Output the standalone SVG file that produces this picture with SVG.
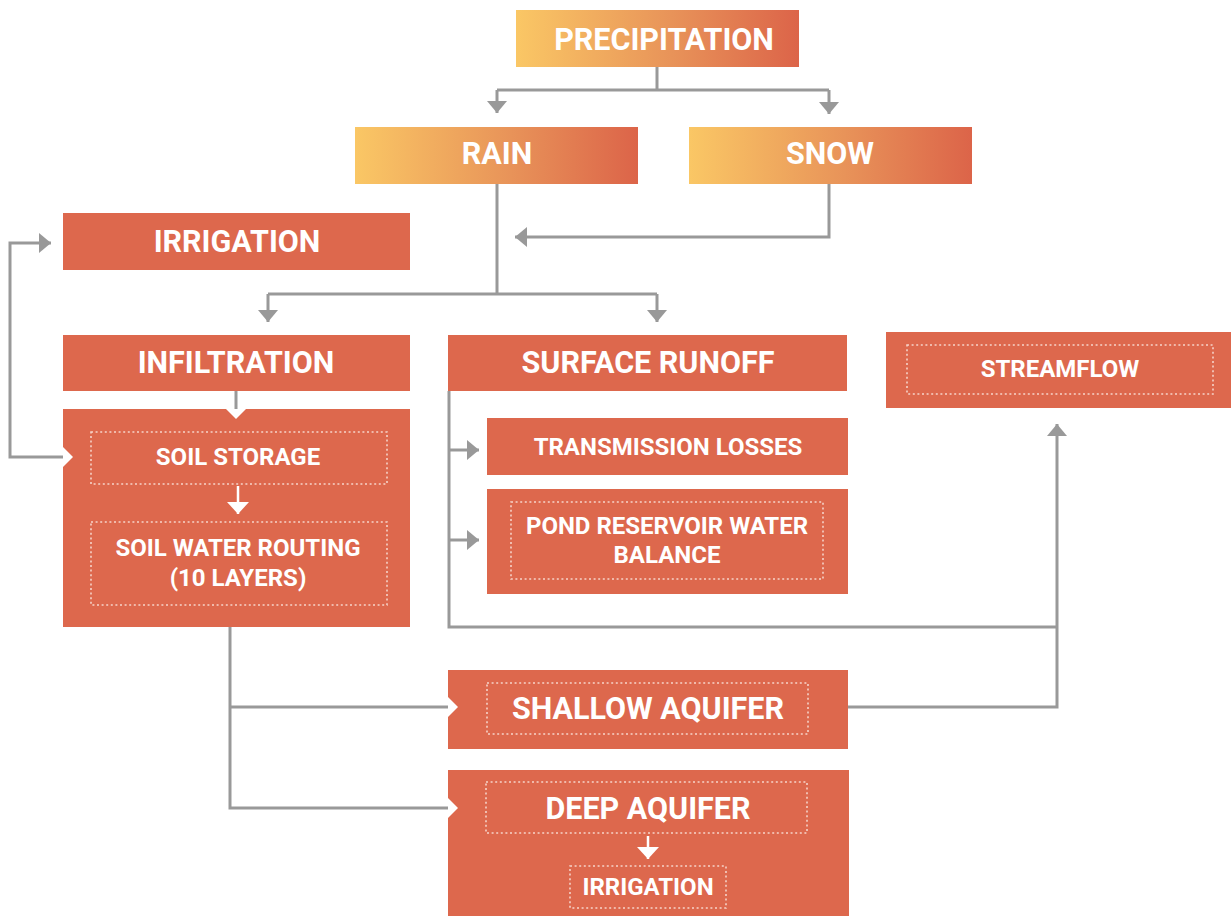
<svg xmlns="http://www.w3.org/2000/svg" width="1231" height="916" viewBox="0 0 1231 916">
  <style>
    .box { fill: #dd684d; }
    .grad { fill: url(#warm); }
    .dot { fill: none; stroke: #f6d3c9; stroke-width: 1.6; stroke-dasharray: 2 2.6; }
    .t-big { font-family: Roboto, "Liberation Sans", sans-serif; font-weight: 700; font-size: 30.5px; fill: #ffffff; text-anchor: middle; dominant-baseline: central; }
    .t-sm { font-family: Roboto, "Liberation Sans", sans-serif; font-weight: 700; font-size: 24px; fill: #ffffff; text-anchor: middle; dominant-baseline: central; }
    .wire { fill: none; stroke: #999999; stroke-width: 3; }
    .notch { fill: #ffffff; }
    .warrow { fill: none; stroke: #ffffff; stroke-width: 2.5; }
  </style>
  <defs>
    <linearGradient id="warm" x1="0" y1="0" x2="1" y2="0">
      <stop offset="0" stop-color="#fac765"/>
      <stop offset="0.55" stop-color="#e89359"/>
      <stop offset="1" stop-color="#dc6449"/>
    </linearGradient>
    <marker id="head" viewBox="0 0 12 20" refX="12" refY="10" markerWidth="12" markerHeight="20" markerUnits="userSpaceOnUse" orient="auto">
      <path d="M0,0 L12,10 L0,20 Z" fill="#999999"/>
    </marker>
    <marker id="whead" viewBox="0 0 12 22" refX="12" refY="11" markerWidth="12" markerHeight="22" markerUnits="userSpaceOnUse" orient="auto">
      <path d="M0,0 L12,11 L0,22 Z" fill="#ffffff"/>
    </marker>
  </defs>

  <!-- connectors -->
  <g id="connectors">
    <path class="wire" d="M657,67 V90 M497,90 H829" />
    <path class="wire" d="M497,90 V113" marker-end="url(#head)"/>
    <path class="wire" d="M829,90 V114" marker-end="url(#head)"/>
    <path class="wire" d="M497,184 V294 M268,294 H657"/>
    <path class="wire" d="M268,294 V322" marker-end="url(#head)"/>
    <path class="wire" d="M657,294 V322" marker-end="url(#head)"/>
    <path class="wire" d="M829,184 V237 H515" marker-end="url(#head)"/>
    <path class="wire" d="M64,457 H10 V243 H51" marker-end="url(#head)"/>
    <path class="wire" d="M236,391 V410"/>
    <path class="wire" d="M449,391 V627 H1057"/>
    <path class="wire" d="M449,450 H479" marker-end="url(#head)"/>
    <path class="wire" d="M449,540 H479" marker-end="url(#head)"/>
    <path class="wire" d="M848,707 H1057 V424" marker-end="url(#head)"/>
    <path class="wire" d="M230,627 V808 H449 M230,707 H449"/>
  </g>

  <g id="precipitation">
    <rect class="grad" x="516" y="10" width="283" height="57"/>
    <text class="t-big" x="664" y="39">PRECIPITATION</text>
  </g>

  <g id="rain">
    <rect class="grad" x="355" y="127" width="283" height="57"/>
    <text class="t-big" x="497" y="153">RAIN</text>
  </g>

  <g id="snow">
    <rect class="grad" x="689" y="127" width="283" height="57"/>
    <text class="t-big" x="830" y="153">SNOW</text>
  </g>

  <g id="irrigation">
    <rect class="box" x="63" y="213" width="347" height="57"/>
    <text class="t-big" x="237" y="241">IRRIGATION</text>
  </g>

  <g id="infiltration">
    <rect class="box" x="63" y="335" width="347" height="56"/>
    <text class="t-big" x="236" y="362">INFILTRATION</text>
  </g>

  <g id="soil">
    <rect class="box" x="63" y="409" width="347" height="218"/>
    <path class="notch" d="M226,409 L246,409 L236,419 Z"/>
    <path class="notch" d="M63,447 L73,457 L63,467 Z"/>
    <rect class="dot" x="91" y="432" width="296" height="52"/>
    <text class="t-sm" x="238" y="457">SOIL STORAGE</text>
    <path class="warrow" d="M238,486 V514" marker-end="url(#whead)"/>
    <rect class="dot" x="91" y="522" width="296" height="83"/>
    <text class="t-sm" x="238" y="548">SOIL WATER ROUTING</text>
    <text class="t-sm" x="238" y="578">(10 LAYERS)</text>
  </g>

  <g id="surface-runoff">
    <rect class="box" x="448" y="335" width="399" height="56"/>
    <text class="t-big" x="648" y="362">SURFACE RUNOFF</text>
  </g>

  <g id="transmission-losses">
    <rect class="box" x="487" y="418" width="361" height="57"/>
    <text class="t-sm" x="668" y="447">TRANSMISSION LOSSES</text>
  </g>

  <g id="pond-reservoir">
    <rect class="box" x="487" y="489" width="361" height="105"/>
    <rect class="dot" x="511" y="502" width="312" height="77"/>
    <text class="t-sm" x="667" y="526">POND RESERVOIR WATER</text>
    <text class="t-sm" x="667" y="555">BALANCE</text>
  </g>

  <g id="streamflow">
    <rect class="box" x="886" y="332" width="345" height="76"/>
    <rect class="dot" x="907" y="345" width="306" height="49"/>
    <text class="t-sm" x="1060" y="369">STREAMFLOW</text>
  </g>

  <g id="shallow-aquifer">
    <rect class="box" x="448" y="670" width="400" height="79"/>
    <path class="notch" d="M448,697 L458,707 L448,717 Z"/>
    <rect class="dot" x="487" y="683" width="321" height="51"/>
    <text class="t-big" x="648" y="708">SHALLOW AQUIFER</text>
  </g>

  <g id="deep-aquifer">
    <rect class="box" x="448" y="770" width="401" height="146"/>
    <path class="notch" d="M448,798 L458,808 L448,818 Z"/>
    <rect class="dot" x="486" y="782" width="321" height="51"/>
    <text class="t-big" x="648" y="808">DEEP AQUIFER</text>
    <path class="warrow" d="M648,836 V859" marker-end="url(#whead)"/>
    <rect class="dot" x="570" y="866" width="156" height="42"/>
    <text class="t-sm" x="648" y="887">IRRIGATION</text>
  </g>
</svg>
